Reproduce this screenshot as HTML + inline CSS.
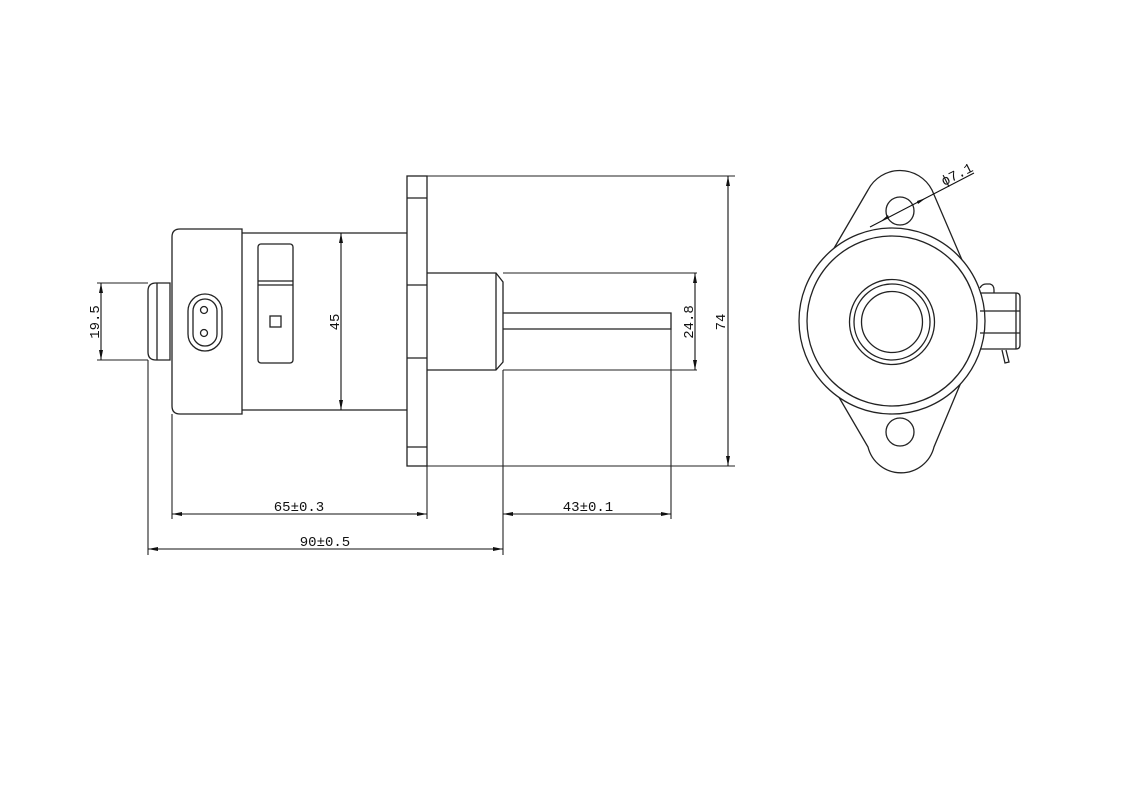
<!DOCTYPE html>
<html><head><meta charset="utf-8"><style>
html,body{margin:0;padding:0;background:#fff;}
svg{display:block;}
text{font-family:"Liberation Mono","Noto Sans CJK SC",monospace;font-size:14px;fill:#111;}
</style></head><body>
<svg width="1131" height="787" viewBox="0 0 1131 787" xmlns="http://www.w3.org/2000/svg">
<defs>
<marker id="a" viewBox="0 0 10 4" refX="10" refY="2" markerWidth="10" markerHeight="4" orient="auto-start-reverse" markerUnits="userSpaceOnUse"><path d="M0,0 L10,2 L0,4z" fill="#111"/></marker>
</defs>
<g fill="none" stroke="#222" stroke-width="1.3">
<path d="M170,283 H156 Q148,283 148,291 V352 Q148,360 156,360 H170 Z"/>
<line x1="157" y1="283" x2="157" y2="360"/>
<path d="M242,229 H180 Q172,229 172,237 V406 Q172,414 180,414 H242 Z"/>
<path d="M242,233 H407 M242,410 H407"/>
<rect x="188" y="294" width="34" height="57" rx="17"/>
<rect x="193" y="299" width="24" height="47" rx="12"/>
<circle cx="204" cy="310" r="3.5"/>
<circle cx="204" cy="333" r="3.5"/>
<rect x="258" y="244" width="35" height="119" rx="3"/>
<line x1="258" y1="281" x2="293" y2="281"/>
<line x1="258" y1="285" x2="293" y2="285"/>
<rect x="270" y="316" width="11" height="11"/>
<rect x="407" y="176" width="20" height="290"/>
<path d="M407,198 H427 M407,285 H427 M407,358 H427 M407,447 H427"/>
<path d="M427,273 H496 L503,282 V362 L496,370 H427"/>
<line x1="496" y1="273" x2="496" y2="370"/>
<path d="M503,313 H671 V329 H503"/>
<g stroke-width="1.1">
<path d="M97,283 H148 M97,360 H148"/>
<path d="M330,233 H346 M330,410 H346"/>
<path d="M427,176 H735 M427,466 H735"/>
<path d="M503,273 H697 M503,370 H697"/>
<path d="M172,414 V519 M427,466 V519 M503,370 V555 M671,329 V519 M148,360 V555"/>
</g>
</g>
<g stroke="#111" stroke-width="1.1" fill="none">
<line x1="101" y1="283" x2="101" y2="360" marker-start="url(#a)" marker-end="url(#a)"/>
<line x1="341" y1="233" x2="341" y2="410" marker-start="url(#a)" marker-end="url(#a)"/>
<line x1="695" y1="273" x2="695" y2="370" marker-start="url(#a)" marker-end="url(#a)"/>
<line x1="728" y1="176" x2="728" y2="466" marker-start="url(#a)" marker-end="url(#a)"/>
<line x1="172" y1="514" x2="427" y2="514" marker-start="url(#a)" marker-end="url(#a)"/>
<line x1="503" y1="514" x2="671" y2="514" marker-start="url(#a)" marker-end="url(#a)"/>
<line x1="148" y1="549" x2="503" y2="549" marker-start="url(#a)" marker-end="url(#a)"/>
</g>
<text transform="translate(99,322) rotate(-90)" text-anchor="middle">19.5</text>
<text transform="translate(339,322) rotate(-90)" text-anchor="middle">45</text>
<text transform="translate(693,322) rotate(-90)" text-anchor="middle">24.8</text>
<text transform="translate(725,322) rotate(-90)" text-anchor="middle">74</text>
<text x="299" y="511" text-anchor="middle">65±0.3</text>
<text x="588" y="511" text-anchor="middle">43±0.1</text>
<text x="325" y="546" text-anchor="middle">90±0.5</text>
<g fill="none" stroke="#222" stroke-width="1.3">
<path d="M833,250 L868,190 A36,36 0 0 1 932,190 L962,260"/>
<path d="M833,387 L868,447 A34,34 0 0 0 934,447 L962,380"/>
<circle cx="900" cy="211" r="14" fill="#fff"/>
<circle cx="900" cy="432" r="14"/>
<circle cx="892" cy="321" r="93" fill="#fff"/>
<circle cx="892" cy="321" r="85"/>
<circle cx="892" cy="322" r="42.5"/>
<circle cx="892" cy="322" r="38"/>
<circle cx="892" cy="322" r="30.5"/>
<path d="M980,293 H1016 Q1020,293 1020,297 V345 Q1020,349 1016,349 H980"/>
<path d="M980,311 H1020 M980,333 H1020 M1016,293 V349"/>
<path d="M980,288 Q982,284 986,284 H990 Q994,285 994,290 V293"/>
<path d="M1002,350 L1005,363 L1009,362 L1006,350"/>
</g>
<line x1="870" y1="227" x2="974" y2="173" stroke="#111" stroke-width="1.1"/>
<path d="M880,222 l8,-7 l1,3z M926,198 l-9,3 l1,3z" fill="#111"/>
<text transform="translate(944,186) rotate(-27)">ϕ7.1</text>
</svg>
</body></html>
